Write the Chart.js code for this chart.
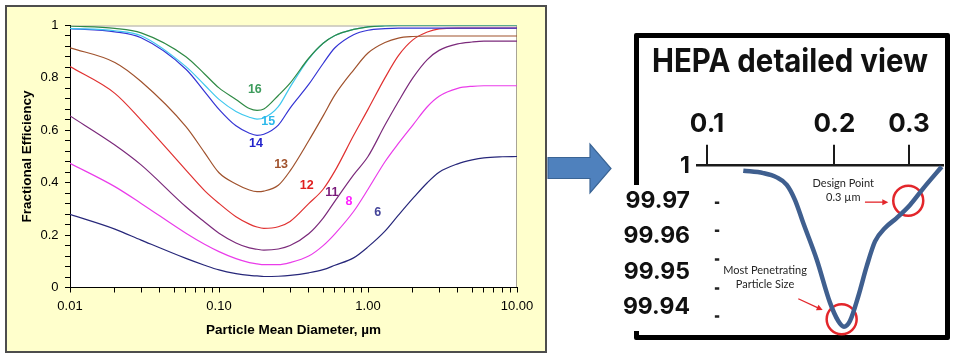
<!DOCTYPE html>
<html>
<head>
<meta charset="utf-8">
<title>Fractional efficiency by MERV rating</title>
<script src="https://cdn.jsdelivr.net/npm/chart.js@4.4.1/dist/chart.umd.min.js"></script>
<style>
  html, body { margin: 0; padding: 0; background: #fff; }
  body { width: 961px; height: 364px; position: relative; overflow: hidden; }
  #panel { position: absolute; left: 5px; top: 5px; width: 538px; height: 344px; background: #ffffcc; border: 2px solid #4d4d4d; }
  #effChart { position: absolute; left: 0; top: 0; }
  #hepaBox { position: absolute; left: 634px; top: 33px; width: 306px; height: 297px; border: 5px solid #000; border-radius: 2px; }
  #boxGap { position: absolute; left: 626px; top: 185px; width: 18px; height: 146px; background: #fff; }
  #hepaChart { position: absolute; left: 547px; top: 0; }
</style>
</head>
<body>
<div id="panel"><canvas id="effChart" width="538" height="344"></canvas></div>
<div id="hepaBox"></div>
<div id="boxGap"></div>
<canvas id="hepaChart" width="414" height="364"></canvas>
<script>
// Left chart: fractional efficiency per MERV rating
const diameters = [0.01, 0.02, 0.03, 0.06, 0.08, 0.1, 0.13, 0.16, 0.18, 0.2, 0.25, 0.3, 0.4, 0.5, 0.6, 0.8, 1, 1.3, 1.6, 2, 2.5, 3, 4, 5, 6, 8, 10];
const merv16 = [0.998, 0.989, 0.972, 0.881, 0.815, 0.762, 0.718, 0.683, 0.676, 0.681, 0.733, 0.78, 0.875, 0.932, 0.962, 0.985, 0.995, 0.999, 1, 1, 1, 1, 1, 1, 1, 1, 1];
const merv15 = [0.989, 0.98, 0.961, 0.843, 0.773, 0.718, 0.672, 0.65, 0.643, 0.647, 0.69, 0.765, 0.873, 0.932, 0.962, 0.985, 0.995, 0.999, 1, 1, 1, 1, 1, 1, 1, 1, 1];
const merv14 = [0.988, 0.976, 0.953, 0.833, 0.748, 0.68, 0.617, 0.589, 0.581, 0.585, 0.62, 0.685, 0.775, 0.855, 0.915, 0.965, 0.982, 0.988, 0.99, 0.99, 0.99, 0.99, 0.99, 0.99, 0.99, 0.99, 0.99];
const merv13 = [0.915, 0.859, 0.786, 0.614, 0.515, 0.438, 0.395, 0.372, 0.366, 0.368, 0.39, 0.445, 0.56, 0.655, 0.735, 0.83, 0.895, 0.935, 0.952, 0.958, 0.96, 0.96, 0.96, 0.96, 0.96, 0.96, 0.96];
const merv12 = [0.843, 0.741, 0.639, 0.448, 0.37, 0.321, 0.27, 0.242, 0.231, 0.226, 0.232, 0.252, 0.32, 0.375, 0.445, 0.58, 0.68, 0.8, 0.885, 0.945, 0.975, 0.987, 0.99, 0.99, 0.99, 0.99, 0.99];
const merv11 = [0.655, 0.544, 0.468, 0.308, 0.25, 0.207, 0.17, 0.151, 0.146, 0.143, 0.147, 0.16, 0.205, 0.265, 0.33, 0.43, 0.5, 0.62, 0.71, 0.8, 0.87, 0.905, 0.93, 0.937, 0.94, 0.94, 0.94];
const merv8 = [0.474, 0.385, 0.321, 0.207, 0.165, 0.137, 0.11, 0.095, 0.09, 0.087, 0.087, 0.095, 0.12, 0.16, 0.205, 0.29, 0.375, 0.48, 0.55, 0.62, 0.69, 0.73, 0.76, 0.768, 0.77, 0.77, 0.77];
const merv6 = [0.279, 0.223, 0.181, 0.111, 0.085, 0.067, 0.053, 0.046, 0.044, 0.042, 0.043, 0.046, 0.056, 0.068, 0.085, 0.113, 0.155, 0.215, 0.276, 0.34, 0.4, 0.44, 0.472, 0.487, 0.495, 0.499, 0.5];

const seriesNames = ['16', '15', '14', '13', '12', '11', '8', '6'];
const seriesValues = [merv16, merv15, merv14, merv13, merv12, merv11, merv8, merv6];
const lineColors = ['#2f8a45', '#3fc8ee', '#3434d4', '#a0522d', '#e03131', '#7b2a7b', '#ea3cea', '#27277a'];
const labelColors = ['#3d9b5c', '#2bb8ea', '#2222cc', '#a0522d', '#e02020', '#7a1a7a', '#ff22ff', '#444499'];
// where each rating number sits (diameter, efficiency)
const labelX = [0.174, 0.214, 0.177, 0.261, 0.388, 0.571, 0.746, 1.16];
const labelY = [0.754, 0.633, 0.551, 0.47, 0.391, 0.362, 0.328, 0.287];

const xTickValues = [0.01, 0.1, 1, 10];
const xTickLabels = ['0.01', '0.10', '1.00', '10.00'];
const yTickLabels = ['0', '0.2', '0.4', '0.6', '0.8', '1'];

// Right chart: HEPA detailed view
const hepaDiameters = [0.1218, 0.1358, 0.1461, 0.1543, 0.1614, 0.1688, 0.1816, 0.1952, 0.2042, 0.2106, 0.2176, 0.2277, 0.2384, 0.2494, 0.2633, 0.2805, 0.3017, 0.3243, 0.3584];
const hepaEfficiency = [99.9786, 99.9779, 99.9767, 99.9746, 99.9703, 99.9638, 99.9535, 99.9413, 99.9361, 99.9345, 99.9361, 99.9431, 99.9516, 99.9586, 99.9624, 99.9652, 99.9689, 99.9736, 99.9797];
const hepaXTicks = [0.1, 0.2, 0.3];
const hepaXLabels = ['0.1', '0.2', '0.3'];
const hepaYTicks = [99.94, 99.95, 99.96, 99.97, 99.98];
const hepaYLabels = ['99.94', '99.95', '99.96', '99.97', '1'];
const markerX = [0.208, 0.2988];
const markerY = [99.9366, 99.9701];
const dashX = 0.1056;
const dashY = [99.9695, 99.9616, 99.9535, 99.9453, 99.9374];
const noteX = [0.2098, 0.1371];
const noteY = [99.975, 99.9504];
const noteLines = [['Design Point', '0.3 µm'], ['Most Penetrating', 'Particle Size']];
const pointerFromX = [0.2361, 0.1643];
const pointerFromY = [99.9697, 99.9424];
const pointerToX = [0.2681, 0.1876];
const pointerToY = [99.9697, 99.9392];

const arial = '"Liberation Sans", Arial, sans-serif';
Chart.defaults.font.family = arial;

const plotFrame = {
    id: 'plotFrame',
    beforeDraw(chart) {
        const { ctx, chartArea: a } = chart;
        ctx.save();
        ctx.fillStyle = '#fff';
        ctx.fillRect(a.left, a.top, a.right - a.left, a.bottom - a.top);
        ctx.strokeStyle = '#a8a496';
        ctx.lineWidth = 1;
        ctx.beginPath();
        ctx.moveTo(a.left, a.top + 0.5);
        ctx.lineTo(a.right - 0.5, a.top + 0.5);
        ctx.lineTo(a.right - 0.5, a.bottom);
        ctx.stroke();
        ctx.restore();
    }
};

const curveLabels = {
    id: 'curveLabels',
    afterDatasetsDraw(chart) {
        const { ctx, scales: { x, y } } = chart;
        ctx.save();
        ctx.font = 'bold 12.5px ' + arial;
        ctx.textAlign = 'center';
        ctx.textBaseline = 'middle';
        seriesNames.forEach((name, i) => {
            ctx.fillStyle = labelColors[i];
            ctx.fillText(name, x.getPixelForValue(labelX[i]), y.getPixelForValue(labelY[i]));
        });
        ctx.restore();
    }
};

// minor ticks 1..9 per decade
const xMinorTicks = [];
xTickValues.forEach((d, i) => {
    const last = i === xTickValues.length - 1;
    for (let k = 1; k <= (last ? 1 : 9); k++) xMinorTicks.push(Math.round(k * d * 1000) / 1000);
});

new Chart(document.getElementById('effChart'), {
    type: 'line',
    data: {
        datasets: seriesNames.map((name, i) => ({
            label: 'MERV ' + name,
            data: diameters.map((d, j) => ({ x: d, y: seriesValues[i][j] })),
            borderColor: lineColors[i],
            borderWidth: 1.2,
            pointRadius: 0,
            fill: false,
            cubicInterpolationMode: 'monotone'
        }))
    },
    options: {
        responsive: false,
        animation: false,
        devicePixelRatio: 1,
        layout: { padding: { top: 18.5, right: 28, bottom: 0, left: 0 } },
        plugins: { legend: { display: false }, tooltip: { enabled: false } },
        scales: {
            x: {
                type: 'logarithmic',
                min: 0.01,
                max: 10,
                afterBuildTicks: scale => { scale.ticks = xMinorTicks.map(v => ({ value: v })); },
                afterFit: scale => { scale.height = 63.5; },
                border: { color: '#000', width: 1 },
                grid: { drawOnChartArea: false, drawTicks: true, tickLength: 5, color: '#000' },
                ticks: {
                    autoSkip: false,
                    maxRotation: 0,
                    padding: 6.5,
                    color: '#000',
                    font: { size: 13 },
                    callback: value => {
                        const k = xTickValues.findIndex(d => Math.abs(d - value) < d * 1e-6);
                        return k >= 0 ? xTickLabels[k] : '';
                    }
                },
                title: {
                    display: true,
                    text: 'Particle Mean Diameter, µm',
                    color: '#000',
                    font: { size: 13.5, weight: 'bold' },
                    padding: { top: 0, bottom: 12.2 }
                }
            },
            y: {
                min: 0,
                max: 1,
                afterFit: scale => { scale.width = 63; },
                border: { color: '#000', width: 1 },
                grid: { drawOnChartArea: false, drawTicks: true, tickLength: 5, color: '#000' },
                ticks: {
                    stepSize: 0.04,
                    autoSkip: false,
                    padding: 6.5,
                    color: '#000',
                    font: { size: 13 },
                    callback: value => {
                        const k = Math.round(value / 0.2);
                        return Math.abs(value - k * 0.2) < 1e-6 ? yTickLabels[k] : '';
                    }
                },
                title: {
                    display: true,
                    text: 'Fractional Efficiency',
                    color: '#000',
                    font: { size: 13.5, weight: 'bold' },
                    padding: { top: 12.4, bottom: 0 }
                }
            }
        }
    },
    plugins: [plotFrame, curveLabels]
});

const hepaDecor = {
    id: 'hepaDecor',
    afterDraw(chart) {
        const { ctx, scales: { x, y } } = chart;
        ctx.save();

        // block arrow between the two panels
        ctx.beginPath();
        ctx.moveTo(1, 157.5);
        ctx.lineTo(43, 157.5);
        ctx.lineTo(43, 144);
        ctx.lineTo(64, 168.5);
        ctx.lineTo(43, 193);
        ctx.lineTo(43, 178.5);
        ctx.lineTo(1, 178.5);
        ctx.closePath();
        ctx.fillStyle = '#4f81bd';
        ctx.fill();
        ctx.strokeStyle = '#3a6494';
        ctx.lineWidth = 1.2;
        ctx.stroke();

        // heading
        ctx.fillStyle = '#111';
        ctx.font = 'bold 33px Inter, "Open Sans", sans-serif';
        ctx.textAlign = 'center';
        ctx.textBaseline = 'alphabetic';
        ctx.fillText('HEPA detailed view', 243, 72, 276);

        // notes
        ctx.font = '11px Lato, "Open Sans", sans-serif';
        ctx.fillStyle = '#262626';
        ctx.textBaseline = 'middle';
        noteLines.forEach((lines, i) => {
            const px = x.getPixelForValue(noteX[i]);
            const py = y.getPixelForValue(noteY[i]);
            lines.forEach((t, j) => ctx.fillText(t, px, py + j * 14));
        });

        // red pointers
        ctx.strokeStyle = '#e3262b';
        ctx.fillStyle = '#e3262b';
        ctx.lineWidth = 1.3;
        pointerFromX.forEach((fx, i) => {
            const x0 = x.getPixelForValue(fx), y0 = y.getPixelForValue(pointerFromY[i]);
            const x1 = x.getPixelForValue(pointerToX[i]), y1 = y.getPixelForValue(pointerToY[i]);
            const ang = Math.atan2(y1 - y0, x1 - x0);
            ctx.beginPath();
            ctx.moveTo(x0, y0);
            ctx.lineTo(x1 - 4 * Math.cos(ang), y1 - 4 * Math.sin(ang));
            ctx.stroke();
            ctx.beginPath();
            ctx.moveTo(x1, y1);
            ctx.lineTo(x1 - 6 * Math.cos(ang) + 3 * Math.sin(ang), y1 - 6 * Math.sin(ang) - 3 * Math.cos(ang));
            ctx.lineTo(x1 - 6 * Math.cos(ang) - 3 * Math.sin(ang), y1 - 6 * Math.sin(ang) + 3 * Math.cos(ang));
            ctx.closePath();
            ctx.fill();
        });
        ctx.restore();
    }
};

new Chart(document.getElementById('hepaChart'), {
    type: 'line',
    data: {
        datasets: [
            {
                label: 'HEPA',
                data: hepaDiameters.map((d, i) => ({ x: d, y: hepaEfficiency[i] })),
                borderColor: '#3f5f8f',
                borderWidth: 4.5,
                pointRadius: 0,
                cubicInterpolationMode: 'monotone',
                borderJoinStyle: 'round',
                clip: false
            },
            {
                label: 'markers',
                data: markerX.map((d, i) => ({ x: d, y: markerY[i] })),
                showLine: false,
                pointRadius: 15,
                pointBorderWidth: 2.5,
                pointBorderColor: '#e3262b',
                pointBackgroundColor: 'rgba(0,0,0,0)',
                clip: false
            },
            {
                label: 'dashes',
                data: dashY.map(v => ({ x: dashX, y: v })),
                showLine: false,
                pointStyle: 'line',
                pointRadius: 2.2,
                pointBorderWidth: 2.5,
                pointBorderColor: '#222'
            }
        ]
    },
    options: {
        responsive: false,
        animation: false,
        devicePixelRatio: 1,
        layout: { padding: { top: 0, left: 0, right: 18.5, bottom: 20.7 } },
        plugins: { legend: { display: false }, tooltip: { enabled: false } },
        scales: {
            x: {
                type: 'logarithmic',
                position: 'top',
                min: 0.095,
                max: 0.36,
                afterBuildTicks: scale => { scale.ticks = hepaXTicks.map(v => ({ value: v })); },
                afterFit: scale => { scale.height = 165.7; },
                border: { color: '#1a1a1a', width: 2.5 },
                grid: { drawOnChartArea: false, tickLength: 21, lineWidth: 2, color: '#1a1a1a' },
                ticks: {
                    autoSkip: false,
                    maxRotation: 0,
                    padding: 4.5,
                    color: '#111',
                    font: { family: 'Inter, "Open Sans", sans-serif', size: 26, weight: 'bold' },
                    callback: (v, i) => hepaXLabels[i]
                }
            },
            y: {
                min: 99.93,
                max: 99.98,
                afterBuildTicks: scale => { scale.ticks = hepaYTicks.map(v => ({ value: v })); },
                afterFit: scale => { scale.width = 150.6; },
                border: { display: false },
                grid: { display: false, drawTicks: false },
                ticks: {
                    autoSkip: false,
                    padding: 7.6,
                    color: '#111',
                    font: { family: 'Inter, "Open Sans", sans-serif', size: 23, weight: 'bold' },
                    callback: (v, i) => hepaYLabels[i]
                }
            }
        }
    },
    plugins: [hepaDecor]
});
</script>
</body>
</html>
